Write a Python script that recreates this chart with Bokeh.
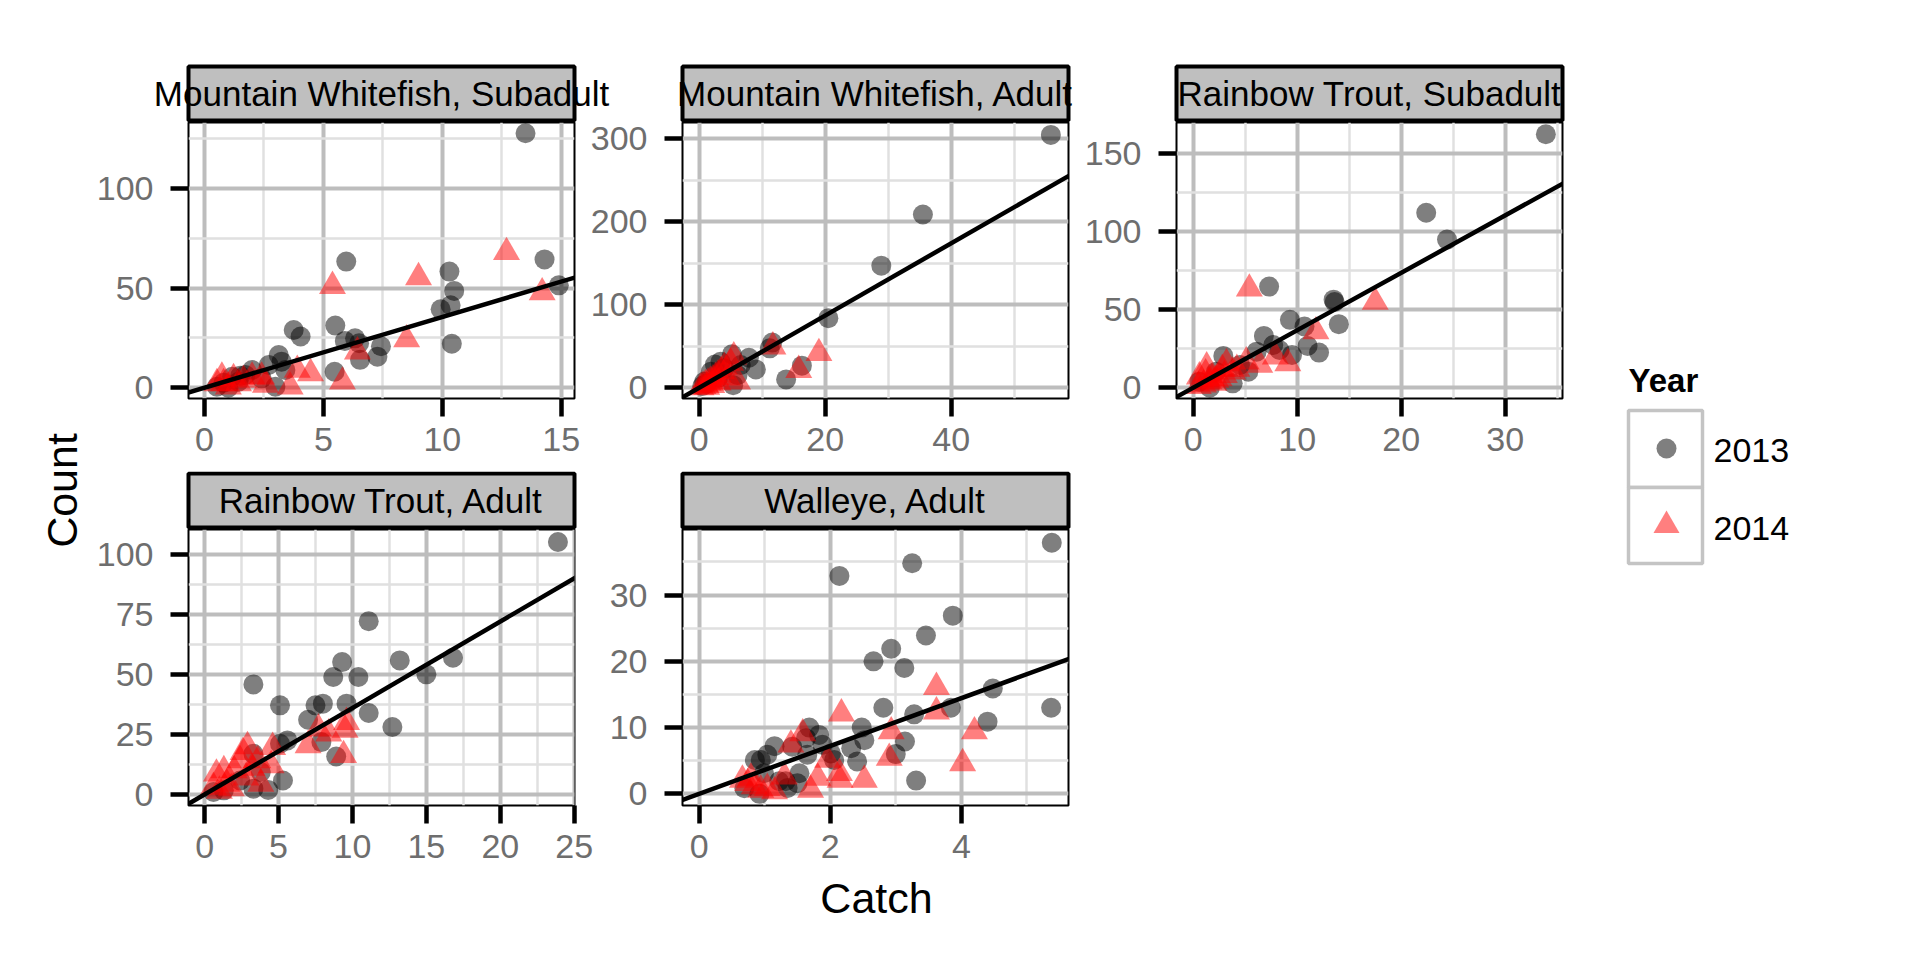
import math
from bokeh.plotting import figure
from bokeh.layouts import row, column
from bokeh.models import Range1d, FixedTicker, Slope
from bokeh.core.properties import value
from bokeh.embed import file_html
from bokeh.resources import INLINE

FONT = "Liberation Sans"

# ---------------- data ----------------
panel_titles = ["Mountain Whitefish, Subadult", "Mountain Whitefish, Adult",
                "Rainbow Trout, Subadult", "Rainbow Trout, Adult", "Walleye, Adult"]
years = ["2013", "2014"]
x_title = "Catch"
y_title = "Count"
legend_title = "Year"

# Mountain Whitefish, Subadult
mws_2013_catch = [13.5, 5.96, 14.3, 10.3, 10.5, 14.9, 10.35, 9.93, 10.4, 5.5, 3.75, 4.04, 5.9, 6.33, 6.5,
                  7.42, 7.27, 6.54, 5.47, 3.12, 3.24, 2.7, 2.0, 1.72, 1.16, 0.52, 1.0, 2.98, 3.4, 2.4, 1.43, 0.8, 1.5]
mws_2013_count = [127.7, 63.3, 64.4, 58.3, 48.6, 51.4, 41.4, 39.4, 22.1, 31.2, 29.0, 25.7, 23.5, 24.8, 22.3,
                  20.8, 15.6, 14.0, 8.0, 16.4, 13.1, 11.4, 8.9, 6.4, 5.5, 0.5, 0.0, 0.5, 8.9, 4.7, 3.0, 2.5, 6.0]
mws_2014_catch = [12.7, 5.38, 9.0, 14.2, 8.5, 6.43, 5.8, 4.46, 3.9, 3.6, 2.4, 2.0, 2.56, 1.22, 0.8, 0.52,
                  1.43, 1.0, 1.64, 0.73]
mws_2014_count = [68.0, 51.0, 55.4, 47.8, 24.2, 18.1, 3.0, 7.2, 8.9, 0.5, 5.5, 5.5, 1.4, 4.7, 2.2, 2.2,
                  2.2, 0.5, 3.9, 5.5]

# Mountain Whitefish, Adult
mwa_2013_catch = [55.8, 35.5, 28.9, 20.5, 11.6, 11.2, 9.0, 13.8, 16.3, 7.9, 5.2, 3.4, 1.85, 6.1, 5.4, 0.8,
                  4.0, 6.6, 0.5, 1.2, 2.5, 3.0]
mwa_2013_count = [304.5, 208.6, 147.0, 83.8, 54.4, 47.5, 22.1, 10.1, 26.6, 36.2, 40.3, 31.4, 19.3, 15.3,
                  3.2, 7.2, 23.4, 27.4, 2.0, 5.0, 28.0, 12.0]
mwa_2014_catch = [11.7, 19.0, 15.8, 5.5, 6.1, 0.3, 0.6, 1.0, 1.4, 1.8, 2.2, 2.6, 3.0, 3.5, 4.0, 2.0, 3.0,
                  1.2, 4.5, 5.0]
mwa_2014_count = [49.5, 41.5, 21.3, 37.5, 7.2, 0.5, 2.0, 4.0, 6.0, 8.0, 10.0, 13.0, 16.0, 20.0, 25.0, 3.0,
                  6.0, 1.0, 12.0, 30.0]

# Rainbow Trout, Subadult
rts_2013_catch = [33.9, 22.4, 24.4, 7.3, 13.5, 13.6, 14.0, 9.3, 10.7, 6.8, 7.7, 8.3, 11.0, 12.1, 9.5, 6.1,
                  5.3, 2.9, 3.8, 1.6, 0.6, 2.2, 4.5]
rts_2013_count = [162.4, 112.1, 94.9, 64.8, 56.4, 54.9, 40.7, 43.5, 39.2, 33.2, 27.4, 24.2, 26.8, 22.5,
                  21.0, 23.1, 10.3, 20.4, 2.8, 0.0, 3.9, 10.3, 14.6]
rts_2014_catch = [5.4, 17.5, 11.8, 9.1, 7.9, 6.4, 5.1, 3.2, 1.3, 0.6, 2.2, 3.8, 0.5, 1.0, 1.5, 2.0, 2.5,
                  3.0, 1.2, 1.8, 2.8, 4.2]
rts_2014_count = [63.4, 54.9, 36.0, 15.6, 19.9, 14.6, 16.7, 15.6, 13.5, 7.1, 4.9, 10.3, 1.0, 2.0, 4.0,
                  3.0, 6.0, 8.0, 9.0, 6.0, 12.0, 12.0]

# Rainbow Trout, Adult
rta_2013_catch = [23.9, 11.1, 3.3, 9.3, 8.7, 10.4, 13.2, 15.0, 16.8, 5.1, 7.5, 8.0, 9.6, 11.1, 12.7, 7.0,
                  7.9, 8.9, 5.6, 5.1, 5.3, 4.3, 3.3, 3.3, 3.8, 1.3, 0.6, 2.4]
rta_2013_count = [105.1, 72.1, 45.8, 55.1, 48.9, 48.9, 55.8, 50.0, 56.9, 37.1, 37.1, 37.8, 37.8, 33.9,
                  28.1, 31.1, 21.8, 15.8, 22.5, 21.1, 5.8, 1.9, 2.4, 16.9, 9.3, 1.7, 1.0, 5.8]
rta_2014_catch = [9.6, 9.5, 7.7, 8.4, 7.0, 9.4, 4.6, 2.9, 2.6, 3.6, 4.5, 1.3, 0.8, 2.0, 2.4, 3.8, 0.6,
                  1.5, 1.0, 1.8, 2.8, 3.2]
rta_2014_count = [30.1, 26.9, 27.4, 25.3, 20.4, 16.3, 19.7, 20.0, 17.6, 14.2, 12.1, 10.0, 8.6, 10.0,
                  14.2, 4.4, 3.1, 4.4, 1.5, 2.5, 7.0, 11.0]

# Walleye, Adult
wal_2013_catch = [5.38, 3.25, 2.14, 3.87, 3.46, 2.93, 2.66, 3.13, 4.48, 5.37, 2.81, 3.28, 3.84, 4.4, 3.31,
                  2.48, 2.52, 3.14, 3.0, 2.41, 2.32, 2.01, 1.88, 1.68, 1.83, 1.63, 1.65, 1.42, 1.15, 1.04,
                  0.94, 0.85, 1.53, 1.32, 1.22, 0.99, 0.69, 0.92, 1.35, 1.5, 2.06]
wal_2013_count = [37.9, 34.8, 32.9, 26.9, 23.9, 21.9, 20.0, 19.0, 15.9, 13.0, 13.0, 12.0, 13.0, 10.9, 2.0,
                  10.0, 8.1, 7.9, 6.0, 4.9, 6.9, 6.1, 7.4, 10.0, 8.9, 8.4, 5.9, 7.1, 7.2, 5.9,
                  5.1, 5.1, 3.1, 1.9, 1.9, 3.1, 0.85, 0.0, 0.9, 1.6, 5.1]
wal_2014_catch = [3.62, 3.62, 2.17, 4.2, 2.93, 4.02, 2.9, 2.52, 2.14, 2.15, 1.96, 1.81, 1.7, 1.58, 1.4,
                  1.3, 1.04, 1.15, 0.94, 0.84, 0.66, 0.79, 0.74]
wal_2014_count = [16.1, 12.4, 12.1, 9.4, 9.4, 4.6, 5.4, 2.1, 3.1, 2.1, 5.1, 2.4, 0.6, 9.1, 7.4,
                  2.6, 0.85, 0.35, 0.6, 1.1, 2.1, 2.4, 1.6]

# fitted line (through origin) slope per panel
fit_slopes = [3.55, 4.35, 3.68, 3.6, 3.61]

# axis limits and ticks per panel
x_limits = [(-0.675, 15.56), (-2.64, 58.6), (-1.6, 35.5), (-1.09, 25.02), (-0.254, 5.635)]
y_limits = [(-5.4, 133.1), (-12.9, 319.4), (-6.9, 169.9), (-4.6, 110.3), (-1.76, 39.9)]
x_ticks = [[0, 5, 10, 15], [0, 20, 40], [0, 10, 20, 30], [0, 5, 10, 15, 20, 25], [0, 2, 4]]
y_ticks = [[0, 50, 100], [0, 100, 200, 300], [0, 50, 100, 150], [0, 25, 50, 75, 100], [0, 10, 20, 30]]

series = [
    ((mws_2013_catch, mws_2013_count), (mws_2014_catch, mws_2014_count)),
    ((mwa_2013_catch, mwa_2013_count), (mwa_2014_catch, mwa_2014_count)),
    ((rts_2013_catch, rts_2013_count), (rts_2014_catch, rts_2014_count)),
    ((rta_2013_catch, rta_2013_count), (rta_2014_catch, rta_2014_count)),
    ((wal_2013_catch, wal_2013_count), (wal_2014_catch, wal_2014_count)),
]

# ---------------- layout (pixels) ----------------
FW, FH = 386, 276                      # frame size of every panel
FRAME_LEFT = [188, 682, 1176]          # absolute frame left edge per column
LEFT_W = 88                            # width of the "Count" column
# (left border, right border) per panel figure
borders = [(100, 8), (100, 8), (100, 16), (100, 24), (84, 16)]
BT = 10                                # transparent top border of panel figures (overlaps the strip figure)
BB1, BB2 = 73, 70                      # bottom borders of row 1 / row 2
STRIP1_H, STRIP2_H = 122, 58
OV = 10                                # overlap of the x-title figure with row 2
MID_W = sum(l + r for l, r in borders[:3]) + 3 * FW
LEG_W = 1920 - LEFT_W - MID_W
TICK_COLOR = "#6e6e6e"


def minor_of(ticks):
    step = ticks[1] - ticks[0]
    return [t + step / 2 for t in [ticks[0] - step] + ticks]


def make_panel(i, bb):
    bl, br = borders[i]
    p = figure(frame_width=FW, frame_height=FH,
               x_range=Range1d(*x_limits[i]), y_range=Range1d(*y_limits[i]),
               output_backend="svg", toolbar_location=None,
               min_border_left=bl, min_border_right=br, min_border_top=BT, min_border_bottom=bb)
    p.background_fill_color = "white"
    p.border_fill_color = None
    p.outline_line_color = "black"
    p.outline_line_width = 2
    p.xaxis.ticker = FixedTicker(ticks=x_ticks[i], minor_ticks=minor_of(x_ticks[i]))
    p.yaxis.ticker = FixedTicker(ticks=y_ticks[i], minor_ticks=minor_of(y_ticks[i]))
    for ax in (p.xaxis[0], p.yaxis[0]):
        ax.axis_line_color = None
        ax.major_tick_line_color = "black"
        ax.major_tick_line_width = 4.5
        ax.major_tick_out = 18
        ax.major_tick_in = 0
        ax.minor_tick_line_color = None
        ax.major_label_text_font = FONT
        ax.major_label_text_font_size = "34px"
        ax.major_label_text_color = TICK_COLOR
    p.xaxis.major_label_standoff = 11
    p.yaxis.major_label_standoff = 17
    for g in (p.xgrid[0], p.ygrid[0]):
        g.grid_line_color = "#bdbdbd"
        g.grid_line_width = 4
        g.minor_grid_line_color = "#e0e0e0"
        g.minor_grid_line_width = 2.5
    (x13, y13), (x14, y14) = series[i]
    p.scatter(x13, y13, marker="circle", size=20, fill_color="black", fill_alpha=0.5, line_color=None)
    p.scatter(x14, y14, marker="triangle", size=27, fill_color="red", fill_alpha=0.5, line_color=None)
    p.add_layout(Slope(gradient=fit_slopes[i], y_intercept=0, line_color="black", line_width=4.5))
    return p


def bare(width, height, y_down=False, fill="white"):
    f = figure(width=width, height=height, x_range=Range1d(0, width),
               y_range=Range1d(height, 0) if y_down else Range1d(0, height),
               x_axis_type=None, y_axis_type=None, output_backend="svg", toolbar_location=None,
               min_border=0, outline_line_color=None)
    f.background_fill_color = fill
    f.border_fill_color = fill
    return f


def strip_fig(height, titles, top, bottom):
    s = bare(MID_W, height, y_down=True)
    n = len(titles)
    lefts = [FRAME_LEFT[k] - LEFT_W for k in range(n)]
    s.quad(left=lefts, right=[l + FW for l in lefts], top=[top] * n, bottom=[bottom] * n,
           fill_color="#bfbfbf", line_color="black", line_width=4)
    s.text(x=[l + FW / 2 for l in lefts], y=[(top + bottom) / 2] * n, text=titles,
           text_align="center", text_baseline="middle", text_font=value(FONT),
           text_font_size="35px", text_color="black")
    return s


panels = [make_panel(i, BB1 if i < 3 else BB2) for i in range(5)]

strip1 = strip_fig(STRIP1_H, panel_titles[:3], 66, 120)
strip2 = strip_fig(STRIP2_H, panel_titles[3:], 2, 56)

catch_h = 960 - STRIP1_H - (FH + BB1) - STRIP2_H - (FH + BB2) + OV
catch_fig = bare(MID_W, catch_h, fill=None)
catch_fig.margin = (-OV, 0, 0, 0)
catch_fig.text(x=[876 - LEFT_W], y=[960 - 897], text=[x_title], text_align="center",
               text_baseline="middle", text_font=value(FONT), text_font_size="43px", text_color="black")

count_fig = bare(LEFT_W, 960)
count_fig.text(x=[61], y=[960 - 490], text=[y_title], angle=math.pi / 2, text_align="center",
               text_baseline="middle", text_font=value(FONT), text_font_size="43px", text_color="black")

# legend (drawn by hand in pixel space)
leg = bare(LEG_W, 960)
lx0 = 1626 - (LEFT_W + MID_W)
leg.text(x=[lx0 + 2], y=[960 - 380], text=[legend_title], text_align="left", text_baseline="alphabetic",
         text_font=value(FONT), text_font_size="33px", text_font_style="bold", text_color="black")
leg.quad(left=[lx0 + 2, lx0 + 2], right=[lx0 + 76, lx0 + 76], top=[960 - 410, 960 - 487],
         bottom=[960 - 487, 960 - 563], fill_color="white", line_color="#c4c4c4", line_width=3.5)
leg.scatter([lx0 + 40], [960 - 448], marker="circle", size=20, fill_color="black", fill_alpha=0.5, line_color=None)
leg.scatter([lx0 + 40], [960 - 525], marker="triangle", size=26, fill_color="red", fill_alpha=0.5, line_color=None)
leg.text(x=[lx0 + 87, lx0 + 87], y=[960 - 450, 960 - 528], text=years, text_align="left",
         text_baseline="middle", text_font=value(FONT), text_font_size="34px", text_color="black")

row1 = row(panels[0], panels[1], panels[2], margin=(-BT, 0, 0, 0))
row2 = row(panels[3], panels[4], margin=(-BT, 0, 0, 0))
middle = column(strip1, row1, strip2, row2, catch_fig)
layout = row(count_fig, middle, leg)

open("out.html", "w").write(file_html(layout, INLINE))
